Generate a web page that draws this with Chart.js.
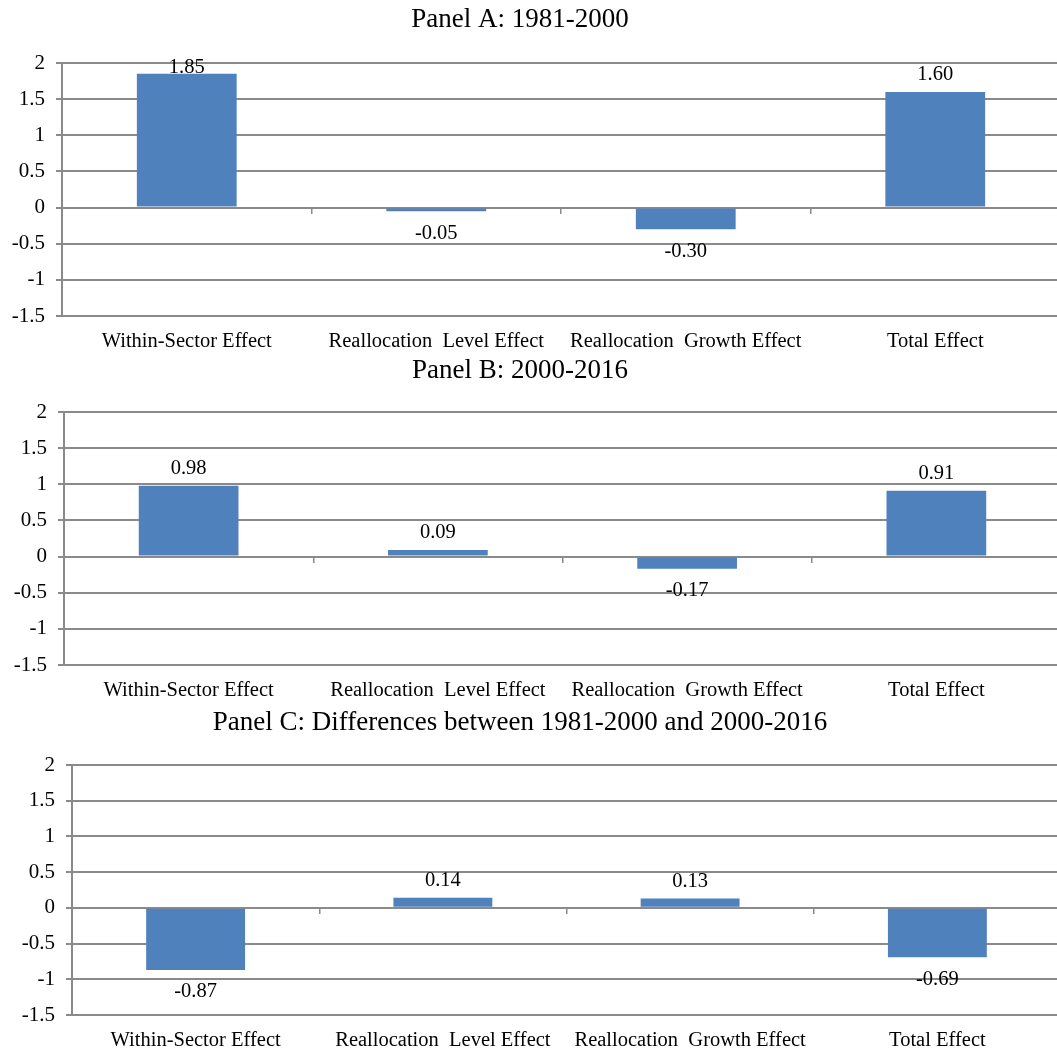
<!DOCTYPE html>
<html>
<head>
<meta charset="utf-8">
<script src="https://cdn.jsdelivr.net/npm/chart.js@4.4.0/dist/chart.umd.min.js"></script>
<style>
  html, body { margin: 0; padding: 0; background: #fff; overflow: hidden; width: 1057px; height: 1055px; position: relative; }
  canvas { position: absolute; }
</style>
</head>
<body>
<canvas id="panelA"></canvas>
<canvas id="panelB"></canvas>
<canvas id="panelC"></canvas>
<script>
// Decomposition of growth effects, three panels sharing the same categories
const categories = ['Within-Sector Effect', 'Reallocation  Level Effect', 'Reallocation  Growth Effect', 'Total Effect'];
const panelTitles = ['Panel A: 1981-2000', 'Panel B: 2000-2016', 'Panel C: Differences between 1981-2000 and 2000-2016'];
const valuesA = [1.85, -0.05, -0.30, 1.60];
const valuesB = [0.98, 0.09, -0.17, 0.91];
const valuesC = [-0.87, 0.14, 0.13, -0.69];
const yTickValues = [2, 1.5, 1, 0.5, 0, -0.5, -1, -1.5];
const yTickLabels = ['2', '1.5', '1', '0.5', '0', '-0.5', '-1', '-1.5'];

const SERIF = '"Liberation Serif", "Times New Roman", serif';
const GRID = '#8a8a8a';
const BAR = '#4f81bd';
const TITLE_SIZE = 27;
const TITLE_CENTER_X = 520;   // page x where every panel title is centred

// Value labels at the outer end of each bar
const valueLabels = {
  id: 'valueLabels',
  afterDatasetsDraw(chart) {
    const ctx = chart.ctx;
    const area = chart.chartArea;
    const meta = chart.getDatasetMeta(0);
    const data = chart.data.datasets[0].data;
    ctx.save();
    ctx.font = '20.5px ' + SERIF;
    ctx.fillStyle = '#000';
    ctx.textAlign = 'center';
    ctx.textBaseline = 'middle';
    meta.data.forEach((bar, i) => {
      const v = data[i];
      let y = v >= 0 ? bar.y - 17 : bar.y + 22;
      y = Math.max(y, area.top + 5);
      ctx.fillText(v.toFixed(2), bar.x, y);
    });
    ctx.restore();
  }
};

function makePanel(id, title, values, box) {
  const canvas = document.getElementById(id);
  // canvas spans symmetrically around the title centre, ending at the plot's right edge
  const width = 2 * (box.right - TITLE_CENTER_X);
  const left = box.right - width;
  canvas.width = width;
  canvas.height = box.height;
  canvas.style.top = box.top + 'px';
  canvas.style.left = left + 'px';
  const titleLine = TITLE_SIZE * 1.2;
  return new Chart(canvas, {
    type: 'bar',
    data: {
      labels: categories,
      datasets: [{
        data: values,
        backgroundColor: BAR,
        borderWidth: 0,
        barPercentage: 0.4,
        categoryPercentage: 1.0
      }]
    },
    options: {
      responsive: false,
      animation: false,
      devicePixelRatio: 1,
      layout: { padding: { left: 0, right: 0, top: 0, bottom: 0 } },
      plugins: {
        legend: { display: false },
        tooltip: { enabled: false },
        title: {
          display: true,
          text: title,
          color: '#000',
          font: { family: SERIF, size: TITLE_SIZE, weight: 'normal', lineHeight: 1.2 },
          padding: { top: box.titleY - titleLine / 2, bottom: box.plotTop - box.titleY - titleLine / 2 }
        }
      },
      scales: {
        x: {
          type: 'category',
          offset: true,
          grid: { display: false, drawTicks: false },
          border: { display: false },
          ticks: { color: '#000', font: { family: SERIF, size: 20.5 }, padding: 13, maxRotation: 0, autoSkip: false },
          afterFit(s) { s.height = box.height - box.plotBottom; }
        },
        xZero: {
          type: 'category',
          position: { y: 0 },
          offset: true,
          grid: { display: true, offset: true, drawOnChartArea: false, drawTicks: true, tickLength: 6, color: GRID, lineWidth: 1.5 },
          border: { display: false },
          ticks: { display: false }
        },
        y: {
          min: -1.5,
          max: 2,
          grid: { color: GRID, lineWidth: 2, tickLength: 6 },
          border: { display: true, color: GRID, width: 2 },
          ticks: {
            stepSize: 0.5,
            padding: 11,
            color: '#000',
            font: { family: SERIF, size: 21 },
            callback(v) {
              const i = yTickValues.findIndex(t => Math.abs(t - v) < 1e-9);
              return i >= 0 ? yTickLabels[i] : '';
            }
          },
          afterFit(s) { s.width = box.axisLeft - left; }
        }
      }
    },
    plugins: [valueLabels]
  });
}

makePanel('panelA', panelTitles[0], valuesA, { top: 0, right: 1060, height: 350, axisLeft: 62, plotTop: 63, plotBottom: 316, titleY: 20 });
makePanel('panelB', panelTitles[1], valuesB, { top: 350, right: 1061, height: 350, axisLeft: 64, plotTop: 62, plotBottom: 315, titleY: 21 });
makePanel('panelC', panelTitles[2], valuesC, { top: 700, right: 1061, height: 355, axisLeft: 72, plotTop: 65, plotBottom: 315, titleY: 23 });
</script>
</body>
</html>
